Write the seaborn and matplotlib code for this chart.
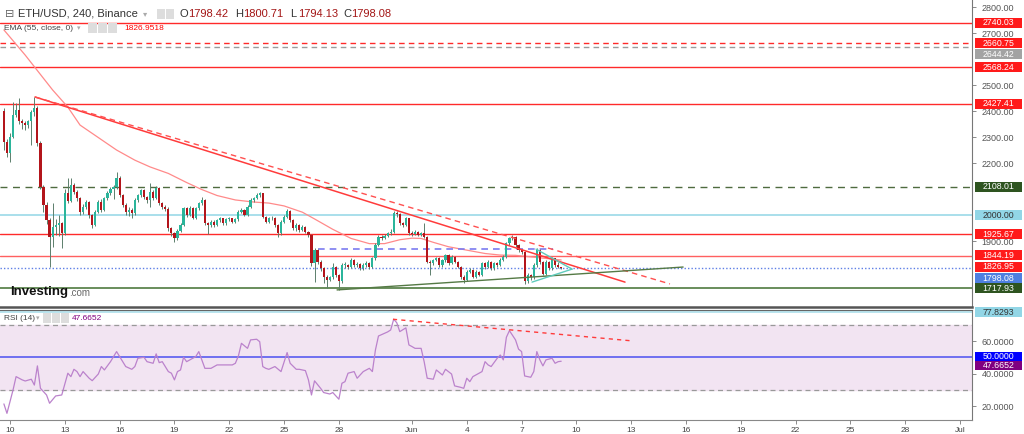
import numpy as np
import matplotlib
matplotlib.use("Agg")
import matplotlib.pyplot as plt
import matplotlib.transforms as mtrans
from matplotlib.patches import Rectangle
import seaborn as sns

# ---------------- data ----------------
first_open = 2400.0
close = [2280, 2240, 2300, 2385, 2404, 2360, 2353, 2345, 2360, 2395,
         2410, 2276, 2109, 2040, 1981, 1917, 1955, 1962, 1968, 1930,
         2083, 2055, 2115, 2090, 2065, 2013, 2030, 2050, 2000, 1962,
         2013, 2051, 2020, 2064, 2083, 2100, 2109, 2141, 2077, 2039,
         2013, 2020, 2006, 2058, 2077, 2096, 2070, 2058, 2090, 2064,
         2103, 2045, 2032, 2025, 1949, 1930, 1910, 1940, 1962, 2026,
         2000, 2026, 1990, 2026, 2045, 2058, 1968, 1962, 1975, 1962,
         1981, 1987, 1968, 1983, 1987, 1975, 1983, 2013, 2020, 2000,
         2032, 2058, 2064, 2077, 2083, 1994, 1975, 1987, 1990, 1962,
         1930, 1975, 1994, 2016, 1981, 1949, 1962, 1942, 1955, 1936,
         1923, 1814, 1865, 1821, 1795, 1763, 1750, 1760, 1801, 1770,
         1745, 1808, 1808, 1800, 1827, 1808, 1812, 1795, 1808, 1814,
         1799, 1833, 1885, 1917, 1912, 1920, 1930, 1936, 2006, 2004,
         1968, 1962, 1987, 1930, 1928, 1936, 1923, 1930, 1917, 1821,
         1815, 1827, 1833, 1808, 1827, 1846, 1814, 1840, 1821, 1801,
         1763, 1750, 1782, 1788, 1763, 1782, 1770, 1814, 1800, 1820,
         1795, 1814, 1808, 1827, 1840, 1891, 1910, 1917, 1885, 1866,
         1859, 1745, 1770, 1760, 1808, 1866, 1820, 1775, 1820, 1795,
         1833, 1808, 1798.42, 1798.08]
high = [2410, 2292, 2315, 2436, 2430, 2449, 2368, 2362, 2366, 2405,
        2455, 2418, 2285, 2115, 2050, 1990, 2045, 1985, 2000, 1975,
        2100, 2141, 2141, 2125, 2098, 2070, 2042, 2058, 2055, 2005,
        2020, 2058, 2060, 2070, 2092, 2108, 2115, 2164, 2150, 2082,
        2045, 2030, 2028, 2065, 2082, 2102, 2100, 2075, 2122, 2095,
        2110, 2108, 2050, 2038, 2030, 1955, 1935, 1948, 1968, 2032,
        2030, 2035, 2030, 2032, 2052, 2070, 2062, 1975, 1980, 1980,
        1986, 1994, 1990, 1988, 1994, 1990, 1988, 2018, 2026, 2024,
        2038, 2064, 2070, 2085, 2090, 2086, 1998, 1992, 1996, 1994,
        1966, 1980, 2000, 2022, 2020, 1985, 1968, 1966, 1960, 1958,
        1940, 1926, 1875, 1870, 1826, 1800, 1768, 1766, 1815, 1805,
        1775, 1815, 1818, 1812, 1834, 1830, 1818, 1815, 1814, 1822,
        1818, 1840, 1892, 1925, 1925, 1928, 1936, 1945, 2017, 2017,
        2008, 1975, 1992, 1990, 1938, 1942, 1940, 1935, 1968, 1920,
        1828, 1832, 1840, 1838, 1832, 1852, 1850, 1846, 1844, 1825,
        1805, 1768, 1788, 1795, 1792, 1788, 1786, 1820, 1818, 1826,
        1824, 1820, 1818, 1833, 1846, 1898, 1916, 1923, 1920, 1890,
        1870, 1862, 1778, 1775, 1815, 1875, 1870, 1825, 1828, 1825,
        1838, 1836, 1820, 1800.71]
low = [2250, 2225, 2205, 2295, 2378, 2350, 2330, 2327, 2335, 2270,
       2380, 2265, 2100, 2013, 1965, 1801, 1878, 1925, 1920, 1872,
       1925, 2045, 2050, 2080, 2055, 2000, 2005, 2022, 1990, 1950,
       1958, 2008, 2010, 2015, 2058, 2078, 2060, 2100, 2070, 2030,
       2000, 1995, 1990, 2000, 2050, 2070, 2062, 2045, 2030, 2058,
       2060, 2040, 2025, 2015, 1940, 1920, 1895, 1905, 1935, 1958,
       1992, 1995, 1985, 1985, 2020, 2040, 1960, 1926, 1955, 1955,
       1958, 1975, 1962, 1962, 1978, 1968, 1970, 1978, 2006, 1995,
       1996, 2026, 2052, 2060, 2070, 1988, 1968, 1970, 1980, 1955,
       1917, 1925, 1968, 1988, 1975, 1942, 1940, 1935, 1938, 1930,
       1915, 1805, 1744, 1812, 1785, 1740, 1718, 1745, 1755, 1762,
       1712, 1740, 1798, 1792, 1795, 1800, 1800, 1788, 1790, 1802,
       1792, 1795, 1828, 1880, 1905, 1906, 1915, 1925, 1932, 1994,
       1960, 1955, 1958, 1925, 1920, 1922, 1918, 1918, 1910, 1815,
       1770, 1808, 1822, 1802, 1802, 1820, 1808, 1810, 1815, 1795,
       1755, 1740, 1745, 1776, 1756, 1758, 1764, 1765, 1793, 1795,
       1788, 1790, 1800, 1803, 1822, 1835, 1885, 1904, 1878, 1858,
       1850, 1735, 1740, 1752, 1755, 1802, 1812, 1768, 1770, 1788,
       1790, 1802, 1795, 1794.13]

ema_idx = [0, 7, 16, 21, 25, 32, 37, 43, 48, 54, 60, 65, 70, 76, 82, 87, 92, 98,
           102, 108, 114, 120, 125, 130, 134, 137, 141, 146, 152, 158, 163, 168,
           174, 178, 183]
ema_val = [2712, 2615, 2481, 2415, 2346, 2290, 2250, 2211, 2185, 2160, 2125, 2098,
           2075, 2058, 2050, 2046, 2035, 2011, 1985, 1945, 1910, 1890, 1890, 1905,
           1911, 1910, 1895, 1878, 1865, 1852, 1846, 1845, 1838, 1833, 1827]

rsi_idx = [0, 1, 3, 4, 6, 7, 9, 10, 11, 12, 14, 15, 17, 19, 21, 22, 23, 24, 25, 26,
           28, 29, 31, 32, 33, 35, 36, 37, 39, 40, 42, 43, 44, 46, 47, 49, 50, 51,
           52, 54, 55, 56, 57, 58, 59, 60, 62, 63, 64, 66, 68, 70, 72, 75, 76, 77,
           78, 80, 81, 83, 84, 85, 86, 87, 89, 91, 93, 94, 96, 97, 99, 100, 101,
           102, 104, 105, 107, 108, 110, 111, 112, 113, 115, 116, 118, 120, 121,
           122, 123, 125, 126, 127, 128, 129, 130, 132, 133, 134, 135, 137, 138,
           139, 141, 142, 144, 145, 147, 148, 150, 151, 152, 153, 154, 156, 157,
           158, 159, 160, 162, 163, 164, 165, 166, 168, 169, 170, 171, 173, 174,
           175, 176, 177, 178, 180, 181, 182, 183]
rsi_val = [21.4, 15.6, 30.0, 38.2, 36.2, 35.5, 36.6, 33.0, 44.8, 31.0, 26.9, 21.8,
           26.3, 26.9, 40.3, 38.2, 42.7, 41.3, 38.2, 41.3, 37.2, 35.7, 39.8, 44.4,
           42.3, 47.4, 50.5, 53.6, 47.4, 44.4, 42.7, 44.4, 49.5, 50.1, 47.4, 46.4,
           52.2, 46.8, 47.4, 41.3, 40.3, 36.2, 41.3, 42.3, 50.1, 47.4, 49.5, 50.5,
           53.6, 43.3, 43.3, 45.4, 45.4, 45.4, 46.4, 50.9, 58.7, 55.6, 60.8, 61.2,
           59.7, 44.4, 43.3, 42.7, 44.4, 41.3, 53.0, 46.4, 42.7, 42.7, 41.9, 36.2,
           26.9, 35.6, 31.0, 28.4, 27.5, 28.4, 24.3, 34.1, 35.1, 40.3, 41.3, 37.2,
           41.3, 43.3, 41.3, 54.6, 63.2, 64.9, 65.7, 66.9, 73.5, 71.4, 65.9, 68.2,
           57.7, 56.7, 55.6, 55.6, 47.4, 37.2, 36.6, 42.3, 39.2, 42.7, 39.8, 32.5,
           31.6, 31.0, 37.2, 35.1, 38.2, 40.3, 41.3, 47.4, 45.4, 44.4, 49.5, 51.5,
           48.5, 62.4, 66.5, 60.8, 55.1, 53.6, 38.6, 37.8, 41.3, 53.6, 48.5, 44.8,
           48.5, 49.5, 46.4, 47.4, 47.67]

# horizontal price levels
level_values = [2740.03, 2660.75, 2644.42, 2568.24, 2427.41, 2108.01, 2000.00,
                1925.67, 1844.19, 1798.08, 1717.93]
ema_last = 1826.95
# trend lines (days since May 10, value)
res_solid = ([1.37, 33.66], [2454, 1742])
res_dashed = ([1.37, 36.12], [2454, 1735])
sup_line = ([17.9, 36.84], [1712, 1800])
tri_upper = ([28.79, 30.76], [1869, 1792])
tri_lower = ([28.57, 30.76], [1742, 1792])
blue_level = ([16.86, 29.72], [1868, 1868])
rsi_trend = ([20.96, 34.04], [73.5, 60.2])
rsi_levels = [77.8293, 70, 50, 30]
rsi_last = 47.6652

# visible right-axis tick values (others sit under the value boxes)
price_ticks = [1900, 2200, 2300, 2400, 2500, 2700, 2800]
rsi_ticks = [20, 40, 60]
tick_days = [0, 3, 6, 9, 12, 15, 18, 22, 25, 28, 31, 34, 37, 40, 43, 46, 49, 52]
tick_labels = ['10', '13', '16', '19', '22', '25', '28', 'Jun', '4', '7', '10',
               '13', '16', '19', '22', '25', '28', 'Jul']

# ---------------- figure ----------------
sns.set_theme(style="white")
plt.rcParams['font.family'] = ['Liberation Sans', 'DejaVu Sans']

W, H = 1024, 434
fig = plt.figure(figsize=(W / 100, H / 100), dpi=100)
fig.patch.set_facecolor('white')


def fx(px):
    return px / W


def fy(py):
    return 1 - py / H


ax1 = fig.add_axes([0, fy(307), fx(972), 307 / H])
ax2 = fig.add_axes([0, fy(420), fx(972), 110 / H])
xlim = (-0.547, 52.65)
for ax in (ax1, ax2):
    ax.set_xlim(*xlim)
    ax.set_facecolor('white')
    ax.spines['left'].set_visible(False)
    ax.spines['right'].set_color('#777777')
    ax.spines['right'].set_linewidth(0.8)
ax1.spines['top'].set_visible(False)
ax1.spines['bottom'].set_color('#555555')
ax1.spines['bottom'].set_linewidth(1.8)
ax2.spines['top'].set_color('#666666')
ax2.spines['top'].set_linewidth(0.8)
ax2.spines['bottom'].set_color('#888888')
ax2.spines['bottom'].set_linewidth(0.8)

ax1.set_ylim(1646.3, 2827)
ax2.set_ylim(11.5, 79.2)

# candles
o = np.array([first_open] + close[:-1], dtype=float)
c = np.array(close, dtype=float)
h = np.array(high, dtype=float)
l = np.array(low, dtype=float)
days = -1 / 3 + np.arange(len(c)) / 6.0
up = c >= o
cols = np.where(up, '#2bb59b', '#b3151b')
body_bottom = np.minimum(o, c)
body_h = np.maximum(np.abs(c - o), 2.5)
ax1.vlines(days, l, h, colors='#5c7f6c', linewidth=0.7, zorder=3)
ax1.bar(days, body_h, bottom=body_bottom, width=0.12, color=cols,
        linewidth=0, zorder=4)

# EMA
ema_days = -1 / 3 + np.array(ema_idx) / 6.0
sns.lineplot(x=ema_days, y=ema_val, ax=ax1, color='#ff8a8a', linewidth=0.9,
             estimator=None, sort=False, zorder=2)

# horizontal levels
level_styles = [('#ff2a2a', '-', 1.0), ('#ff2a2a', (0, (4, 3)), 1.0),
                ('#9a9a9a', (0, (4, 3)), 1.0), ('#ff2a2a', '-', 1.0),
                ('#ff2a2a', '-', 1.0), ('#4f6b3f', (0, (5, 4)), 1.0),
                ('#92d6e6', '-', 1.1), ('#ff2a2a', '-', 1.0),
                ('#ff6060', '-', 1.0), ('#5d7fe6', (0, (1, 1.5)), 1.0),
                ('#4f7a3f', '-', 1.2)]
for v, (col, ls, lw) in zip(level_values, level_styles):
    ax1.axhline(v, color=col, linestyle=ls, linewidth=lw, zorder=1)

# trend lines
ax1.plot(*res_solid, color='#ff3b3b', linewidth=1.1, zorder=5)
ax1.plot(*res_dashed, color='#ff5050', linewidth=1.0, linestyle=(0, (4, 3)), zorder=5)
ax1.plot(*sup_line, color='#557a45', linewidth=1.0, zorder=5)
ax1.plot(*tri_upper, color='#5fcbbb', linewidth=1.0, zorder=5)
ax1.plot(*tri_lower, color='#5fcbbb', linewidth=1.0, zorder=5)
ax1.plot(*blue_level, color='#7b7bf0', linewidth=1.2, linestyle=(0, (4, 3)), zorder=2)

# RSI panel
ax2.axhspan(rsi_levels[3], rsi_levels[1], color='#f2e4f2', zorder=0)
ax2.axhline(rsi_levels[0], color='#a6dcea', linewidth=1.1, zorder=1)
ax2.axhline(rsi_levels[1], color='#999999', linewidth=0.9, linestyle=(0, (4, 3)), zorder=1)
ax2.axhline(rsi_levels[3], color='#999999', linewidth=0.9, linestyle=(0, (4, 3)), zorder=1)
ax2.axhline(rsi_levels[2], color='#6f6ff0', linewidth=1.4, zorder=1)
rsi_days = -1 / 3 + np.array(rsi_idx) / 6.0
sns.lineplot(x=rsi_days, y=rsi_val, ax=ax2, color='#bb82cc', linewidth=0.9,
             estimator=None, sort=False, zorder=3)
ax2.plot(*rsi_trend, color='#ff3b3b', linewidth=1.0, linestyle=(0, (3, 3)), zorder=4)

# axes ticks
ax1.set_xticks([])
ax1.yaxis.tick_right()
ax1.set_yticks(price_ticks)
ax1.set_yticklabels([f"{v:.2f}" for v in price_ticks])
ax1.tick_params(axis='y', direction='out', length=3, width=0.6, colors='#777777',
                labelcolor='#555555', labelsize=6.5, pad=4)
ax2.yaxis.tick_right()
ax2.set_yticks(rsi_ticks)
ax2.set_yticklabels([f"{v:.4f}" for v in rsi_ticks])
ax2.tick_params(axis='y', direction='out', length=3, width=0.6, colors='#777777',
                labelcolor='#555555', labelsize=6.5, pad=4)
ax2.set_xticks(tick_days)
ax2.set_xticklabels(tick_labels)
ax2.tick_params(axis='x', direction='out', length=3, width=0.6, colors='#777777',
                labelcolor='#444444', labelsize=6, pad=2, bottom=True)


# value boxes on the right axis
def add_box(ax, value, text, fc, tc, px_per_unit, shift_px=0, h_px=10.0):
    trans = mtrans.blended_transform_factory(ax.transAxes, ax.transData)
    hgt = h_px / px_per_unit
    yc = value - shift_px / px_per_unit
    ax.add_patch(Rectangle((975 / 972, yc - hgt / 2), 47 / 972, hgt, transform=trans,
                           facecolor=fc, edgecolor='none', clip_on=False, zorder=10))
    ax.text(998.5 / 972, yc, text, transform=trans, ha='center', va='center',
            fontsize=6.3, color=tc, clip_on=False, zorder=11)


pp = 0.26
RED = '#ff1a1a'
GRN = '#2e5420'
box_specs = [(2740.03, RED, 'white', 0), (2660.75, RED, 'white', 0),
             (2644.42, '#a3a3a3', 'white', 7), (2568.24, RED, 'white', 0),
             (2427.41, RED, 'white', 0), (2108.01, GRN, 'white', 0),
             (2000.00, '#92d6e6', '#333333', 0), (1925.67, RED, 'white', 0),
             (1844.19, RED, 'white', -0.5), (ema_last, RED, 'white', 6.5),
             (1798.08, '#4e7fe0', 'white', 10.5), (1717.93, GRN, 'white', 0)]
for v, fc, tc, sh in box_specs:
    add_box(ax1, v, f"{v:.2f}", fc, tc, pp, sh)
rp = 1.625
add_box(ax2, rsi_levels[0], f"{rsi_levels[0]:.4f}", '#92d6e6', '#333333', rp, 0)
add_box(ax2, rsi_levels[2], f"{rsi_levels[2]:.4f}", '#0000ff', 'white', rp, -0.5, 9.5)
add_box(ax2, rsi_last, f"{rsi_last:.4f}", '#800080', 'white', rp, 4.3, 9.5)

# header texts
fig.text(fx(5), fy(14), '\u229f', fontsize=8, color='#666666', va='center',
         family=['DejaVu Sans'])
fig.text(fx(18), fy(14), 'ETH/USD, 240, Binance', fontsize=8, color='#333333', va='center')
fig.text(fx(143), fy(14), '\u25be', fontsize=6, color='#aaaaaa', va='center',
         family=['DejaVu Sans'])
for xpx in (157, 166):
    fig.patches.append(Rectangle((fx(xpx), fy(19)), 8 / W, 10 / H, transform=fig.transFigure,
                                 facecolor='#dddddd', edgecolor='none'))
hdr = [(180, 'O', '1798.42'), (235, 'H', '1800.71'), (290, 'L', '1794.13'),
       (343, 'C', '1798.08')]
for xpx, k, v in hdr:
    fig.text(fx(xpx), fy(14), k, fontsize=8, color='#333333', va='center')
    fig.text(fx(xpx + 8), fy(14), v, fontsize=8, color='#a31515', va='center')

fig.text(fx(4), fy(28), 'EMA (55, close, 0)', fontsize=6, color='#444444', va='center')
fig.text(fx(77), fy(28), '\u25be', fontsize=5, color='#aaaaaa', va='center',
         family=['DejaVu Sans'])
for xpx in (88, 98, 108):
    fig.patches.append(Rectangle((fx(xpx), fy(33)), 9 / W, 10 / H, transform=fig.transFigure,
                                 facecolor='#dddddd', edgecolor='none'))
fig.text(fx(124), fy(28), '1826.9518', fontsize=6, color='#ff0000', va='center')

fig.text(fx(4), fy(318), 'RSI (14)', fontsize=6, color='#444444', va='center')
fig.text(fx(36), fy(318), '\u25be', fontsize=5, color='#aaaaaa', va='center',
         family=['DejaVu Sans'])
for xpx in (43, 52, 61):
    fig.patches.append(Rectangle((fx(xpx), fy(323)), 8 / W, 10 / H, transform=fig.transFigure,
                                 facecolor='#dddddd', edgecolor='none'))
fig.text(fx(72), fy(318), '47.6652', fontsize=6, color='#800080', va='center')

# logo
fig.text(fx(10), fy(292), 'Investing', fontsize=9.5, fontweight='bold', color='#111111',
         va='center')
fig.text(fx(69), fy(293), '.com', fontsize=7, color='#666666', va='center')

fig.savefig('out.png', dpi=100, facecolor='white')
